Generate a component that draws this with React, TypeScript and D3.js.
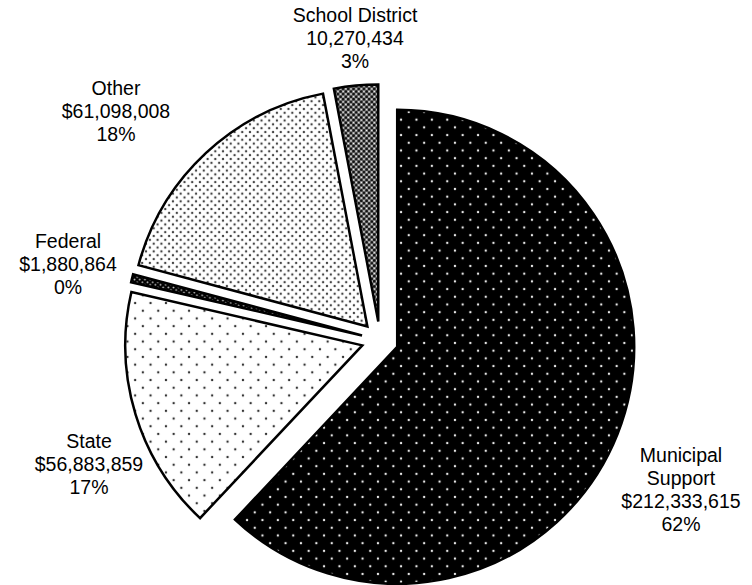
import React from "react";
import * as d3 from "d3";

const categories = ["Municipal Support", "State", "Federal", "Other", "School District"];
const values = [212333615, 56883859, 1880864, 61098008, 10270434];
const labelLines = [
  ["Municipal", "Support", "$212,333,615", "62%"],
  ["State", "$56,883,859", "17%"],
  ["Federal", "$1,880,864", "0%"],
  ["Other", "$61,098,008", "18%"],
  ["School District", "10,270,434", "3%"],
];
const patternIds = ["pMun", "pState", "pFed", "pOther", "pSchool"];
const labelPos: [number, number][] = [
  [681, 455],
  [89, 441],
  [68, 241],
  [116, 88],
  [355, 15],
];

const W = 752;
const H = 585;
const cx = 380;
const cy = 340;
const R = 237;
const explode = 18.5;

export default function App() {
  const pie = d3.pie<number>().sort(null).value((d) => d).startAngle(0).endAngle(2 * Math.PI);
  const arcs = pie(values);
  const arc = d3.arc<d3.PieArcDatum<number>>().innerRadius(0).outerRadius(R);
  const lineH = 23;
  return (
    <svg width={W} height={H} style={{ position: "absolute", left: 0, top: 0, background: "#fff" }}>
      <defs>
        <pattern id="pMun" patternUnits="userSpaceOnUse" width={15.4} height={15.4}>
          <rect width={15.4} height={15.4} fill="#000" />
          <circle cx={3.85} cy={3.85} r={1.2} fill="#e8e8e8" />
          <circle cx={11.55} cy={11.55} r={1.2} fill="#e8e8e8" />
        </pattern>
        <pattern id="pState" patternUnits="userSpaceOnUse" width={15.4} height={15.4}>
          <rect width={15.4} height={15.4} fill="#fff" />
          <circle cx={3.85} cy={3.85} r={1.2} fill="#333" />
          <circle cx={11.55} cy={11.55} r={1.2} fill="#333" />
        </pattern>
        <pattern id="pOther" patternUnits="userSpaceOnUse" width={7.7} height={7.7}>
          <rect width={7.7} height={7.7} fill="#fff" />
          <circle cx={1.9} cy={1.9} r={1.2} fill="#444" />
          <circle cx={5.75} cy={5.75} r={1.2} fill="#444" />
        </pattern>
        <pattern id="pFed" patternUnits="userSpaceOnUse" width={5.2} height={5.2}>
          <rect width={5.2} height={5.2} fill="#000" />
          <circle cx={1.3} cy={1.3} r={0.9} fill="#ccc" />
          <circle cx={3.9} cy={3.9} r={0.9} fill="#ccc" />
        </pattern>
        <pattern id="pSchool" patternUnits="userSpaceOnUse" width={5.2} height={5.2}>
          <rect width={5.2} height={5.2} fill="#888" />
          <circle cx={1.3} cy={1.3} r={1.4} fill="#111" />
          <circle cx={3.9} cy={3.9} r={1.4} fill="#111" />
          <circle cx={3.9} cy={1.3} r={0.7} fill="#fff" />
          <circle cx={1.3} cy={3.9} r={0.7} fill="#fff" />
        </pattern>
      </defs>
      {arcs.map((a, i) => {
        const mid = (a.startAngle + a.endAngle) / 2;
        const dx = Math.sin(mid) * explode;
        const dy = -Math.cos(mid) * explode;
        return (
          <path
            key={categories[i]}
            d={arc(a) || ""}
            transform={`translate(${cx + dx},${cy + dy})`}
            fill={`url(#${patternIds[i]})`}
            stroke="#000"
            strokeWidth={2.5}
            strokeLinejoin="miter"
          />
        );
      })}
      {labelLines.map((lines, i) => (
        <text
          key={categories[i]}
          textAnchor="middle"
          fontFamily="'Liberation Sans', Arial, sans-serif"
          fontSize={19.5}
          fill="#000"
        >
          {lines.map((l, j) => (
            <tspan key={j} x={labelPos[i][0]} y={labelPos[i][1] + j * lineH} dominantBaseline="central">
              {l}
            </tspan>
          ))}
        </text>
      ))}
    </svg>
  );
}
